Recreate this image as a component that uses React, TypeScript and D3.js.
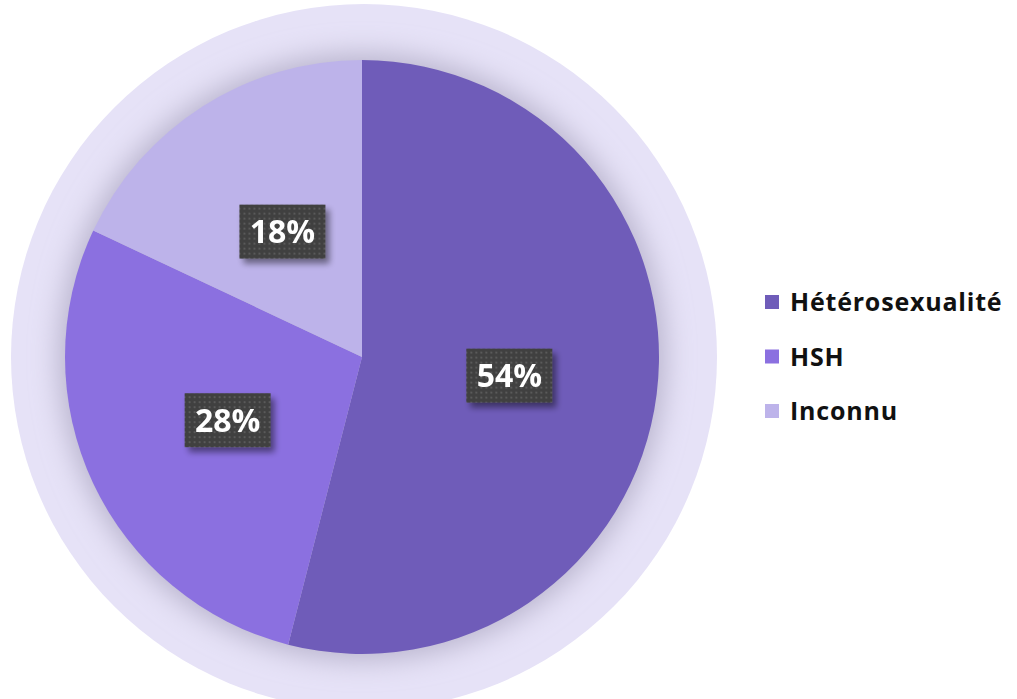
import * as d3 from "d3";
import { useMemo } from "react";

const categories = ["Hétérosexualité", "HSH", "Inconnu"];
const values = [54, 28, 18];
const colors = ["#6f5cb9", "#8b70e0", "#bdb3ea"];

const dims = { width: 1017, height: 699, cx: 362, cy: 357, radius: 297, halo: 353 };

const App = () => {
  const data = categories.map((c, i) => ({ name: c, value: values[i], color: colors[i] }));

  const arcs = useMemo(() => {
    return d3.pie<any>().value(d => d.value).sort(null)(data);
  }, []);

  const arcGen = d3.arc<any>().innerRadius(0).outerRadius(dims.radius);

  const legendY = d3.scalePoint<string>()
    .domain(categories)
    .range([302, 411]);

  return (
    <svg width={dims.width} height={dims.height} style={{ position: "absolute", left: 0, top: 0 }}>
      <defs>
        <filter id="glow" x="-30%" y="-30%" width="160%" height="160%">
          <feGaussianBlur stdDeviation="14" />
        </filter>
        <filter id="boxShadow" x="-20%" y="-20%" width="150%" height="160%">
          <feGaussianBlur in="SourceAlpha" stdDeviation="3" />
          <feOffset dx="4" dy="5" result="b" />
          <feComponentTransfer><feFuncA type="linear" slope="0.45" /></feComponentTransfer>
          <feMerge>
            <feMergeNode />
            <feMergeNode in="SourceGraphic" />
          </feMerge>
        </filter>
        <pattern id="dots" width="5" height="5" patternUnits="userSpaceOnUse">
          <rect width="5" height="5" fill="#3f3f3f" />
          <rect x="1" y="1" width="2" height="2" fill="#5a5a5a" />
        </pattern>
      </defs>

      <circle cx={dims.cx + 2} cy={dims.cy} r={dims.halo} fill="#e6e2f7" />
      <circle cx={dims.cx} cy={dims.cy} r={dims.radius + 6} fill="#b8b3cc" filter="url(#glow)" />

      <g transform={`translate(${dims.cx},${dims.cy})`}>
        {arcs.map((a, i) => (
          <path key={i} d={arcGen(a) || ""} fill={a.data.color} />
        ))}
        {arcs.map((a, i) => {
          const [x, y] = arcGen.centroid(a);
          return (
            <g key={"l" + i} transform={`translate(${x},${y})`} filter="url(#boxShadow)">
              <rect x={-43} y={-27} width={86} height={54} fill="url(#dots)" />
              <text
                textAnchor="middle"
                dy="0.36em"
                fill="#ffffff"
                fontFamily="'Open Sans', sans-serif"
                fontWeight="bold"
                fontSize={32}
              >
                {a.data.value}%
              </text>
            </g>
          );
        })}
      </g>

      <g>
        {data.map((d, i) => (
          <g key={i} transform={`translate(765,${legendY(d.name)})`}>
            <rect x={0} y={-7} width={14} height={14} fill={d.color} />
            <text
              x={25}
              dy="0.36em"
              fill="#111111"
              fontFamily="'Open Sans', sans-serif"
              fontWeight="bold"
              fontSize={25}
              letterSpacing={0.8}
            >
              {d.name}
            </text>
          </g>
        ))}
      </g>
    </svg>
  );
};

export default App;
